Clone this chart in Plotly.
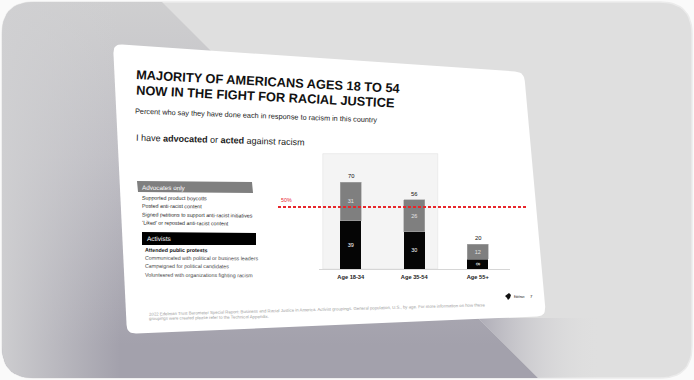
import numpy as np
import plotly.graph_objects as go

# ---------------- data ----------------
categories = ["Age 18-34", "Age 35-54", "Age 55+"]
activists = [39, 30, 8]
advocates_only = [31, 26, 12]
threshold = 50

title_lines = ["MAJORITY OF AMERICANS AGES 18 TO 54", "NOW IN THE FIGHT FOR RACIAL JUSTICE"]
subtitle = "Percent who say they have done each in response to racism in this country"
question = "I have <b>advocated</b> or <b>acted</b> against racism"
advocate_header = "Advocates only"
advocate_items = ["Supported product boycotts", "Posted anti-racist content",
                  "Signed petitions to support anti-racist initiatives",
                  "\u2018Liked\u2019 or reposted anti-racist content"]
activist_header = "Activists"
activist_items = ["Attended public protests", "Communicated with political or business leaders",
                  "Campaigned for political candidates", "Volunteered with organizations fighting racism"]
footer_lines = ["2022 Edelman Trust Barometer Special Report: Business and Racial Justice in America. Activist groupings. General population, U.S., by age. For more information on how these",
                "groupings were created please refer to the Technical Appendix."]
logo_text = "Edelman"
page_number = "7"

FONT = "Liberation Sans, Arial, sans-serif"
W, H = 694, 380

# ---------------- helpers for decorative geometry ----------------
def rounded_poly(pts, r, n=10):
    pts = [np.array(p, float) for p in pts]
    out = []
    N = len(pts)
    for i in range(N):
        p, prv, nxt = pts[i], pts[i - 1], pts[(i + 1) % N]
        d1 = (prv - p) / np.linalg.norm(prv - p)
        d2 = (nxt - p) / np.linalg.norm(nxt - p)
        a, b = p + d1 * r, p + d2 * r
        for t in np.linspace(0, 1, n):
            q = (1 - t) ** 2 * a + 2 * (1 - t) * t * p + t ** 2 * b
            out.append(q)
    out.append(out[0])
    return np.array(out)


def clip(poly, f):
    res = []
    P = list(poly[:-1])
    for i in range(len(P)):
        cur, nxt = P[i], P[(i + 1) % len(P)]
        fc, fn = f(cur), f(nxt)
        if fc >= 0:
            res.append(cur)
        if (fc >= 0) != (fn >= 0):
            t = fc / (fc - fn)
            res.append(cur + t * (nxt - cur))
    res.append(res[0])
    return np.array(res)


fig = go.Figure()

def add_poly(poly, color=None, grad=None, line=None):
    kw = dict(x=poly[:, 0], y=poly[:, 1], mode="lines", fill="toself",
              line=dict(width=0 if line is None else line[1], color="rgba(0,0,0,0)" if line is None else line[0]),
              hoverinfo="skip", showlegend=False, xaxis="x", yaxis="y")
    if grad is not None:
        kw["fillgradient"] = grad
    else:
        kw["fillcolor"] = color
    fig.add_trace(go.Scatter(**kw))

outer = rounded_poly([(2, 2), (692, 2), (692, 378), (2, 378)], 32, 14)
add_poly(outer, "#dfdfdf", line=("#ebebeb", 1.5))
dark = clip(outer, lambda p: 160 + p[1] - p[0])
add_poly(dark, grad=dict(type="vertical", start=0, stop=345,
                         colorscale=[[0, "#cfcfd0"], [0.45, "#c0bfc5"], [1, "#a3a1ac"]]))
left_strip = clip(dark, lambda p: 120 - p[0])
add_poly(left_strip, grad=dict(type="horizontal", start=0, stop=120,
                               colorscale=[[0, "rgba(208,208,210,0.95)"], [1, "rgba(208,208,210,0)"]]))
sh = clip(clip(clip(outer, lambda p: p[0] - p[1] - 160), lambda p: p[1] - 318), lambda p: 640 - p[0])
add_poly(sh, grad=dict(type="horizontal", start=475, stop=600,
                       colorscale=[[0, "#aba9b4"], [1, "rgba(223,223,223,0)"]]))

slide = rounded_poly([(113, 44), (524, 72), (546, 316), (127, 334)], 9, 10)
add_poly(slide, "#ffffff")

# ---------------- bars ----------------
fig.add_trace(go.Bar(x=categories, y=activists, name="Activists", marker=dict(color="#050505", line=dict(width=0)),
                     text=activists, textposition="inside", insidetextanchor="middle",
                     textfont=dict(size=5.5, color="#ffffff", family=FONT), constraintext="none",
                     width=0.33, xaxis="x2", yaxis="y2", hoverinfo="skip", showlegend=False))
fig.add_trace(go.Bar(x=categories, y=advocates_only, name="Advocates only",
                     marker=dict(color="#7f7f7f", line=dict(width=0.6, color="#a8a8a8")),
                     text=advocates_only, textposition="inside", insidetextanchor="middle",
                     textfont=dict(size=5.5, color="#e4e4e4", family=FONT), constraintext="none",
                     width=0.33, xaxis="x2", yaxis="y2", hoverinfo="skip", showlegend=False))

totals = [a + b for a, b in zip(activists, advocates_only)]

ann = []
for c, t in zip(categories, totals):
    ann.append(dict(x=c, y=t, xref="x2", yref="y2", text=str(t), showarrow=False, yshift=6,
                    font=dict(size=5.8, color="#111", family=FONT)))

def txt(text, x, y, size, color="#000", angle=0, xanchor="left", bold=False):
    ann.append(dict(x=x, y=y, xref="x", yref="y", text=("<b>%s</b>" % text) if bold else text,
                    showarrow=False, xanchor=xanchor, yanchor="middle", textangle=angle,
                    font=dict(size=size, color=color, family=FONT)))

txt(title_lines[0], 134, 81.5, 12.8, "#111", 3.0, bold=True)
txt(title_lines[1], 134, 96.5, 12.8, "#111", 2.9, bold=True)
txt(subtitle, 133, 115.5, 7.3, "#222", 2.1)
txt(question, 134, 139.5, 9.0, "#222", 1.6)

txt(advocate_header, 140, 187.5, 6.3, "#ffffff", 0.6)
for i, s in enumerate(advocate_items):
    txt(s, 140, 197.5 + 8.5 * i, 5.3, "#222", 0.6)
txt(activist_header, 145, 238.5, 6.5, "#ffffff", 0.4)
for i, s in enumerate(activist_items):
    txt(s, 143, 250 + 8.2 * i, 5.3, "#111" if i == 0 else "#444", 0.3, bold=(i == 0))

txt(footer_lines[0], 147, 309, 4.3, "#9a9a9a", -1.6)
txt(footer_lines[1], 147, 317.5, 4.3, "#9a9a9a", -1.0)
txt(logo_text, 512, 296.5, 2.7, "#222")
txt(page_number, 527.5, 296, 4.3, "#222")

# threshold label
ann.append(dict(x=279, y=threshold, xref="x", yref="y2", text="%d%%" % threshold, showarrow=False,
                xanchor="left", yanchor="middle", yshift=7, font=dict(size=5.3, color="#e8262b", family=FONT)))

shapes = [
    # header boxes
    dict(type="path", xref="x", yref="y", path="M137,181 L252,182 L253,193 L138,192 Z",
         fillcolor="#7f7f7f", line=dict(width=0), layer="above"),
    dict(type="path", xref="x", yref="y", path="M142,232 L256,233 L256,245 L142,245 Z",
         fillcolor="#000000", line=dict(width=0), layer="above"),
    # logo glyph
    dict(type="path", xref="x", yref="y", path="M505,296 L509,293 L511,295 L510,298 L508,300 L507,298 Z",
         fillcolor="#111", line=dict(width=0), layer="above"),
    # highlight panel behind 18-54 bars
    dict(type="rect", xref="x2", yref="y2", x0=-0.44, x1=1.37, y0=0, y1=93,
         fillcolor="#f4f4f4", line=dict(width=0.6, color="#e3e3e3"), layer="below"),
    # threshold line
    dict(type="line", xref="x", yref="y2", x0=278, x1=528, y0=threshold, y1=threshold,
         line=dict(color="#e8262b", width=1.8, dash="3px,2px"), layer="above"),
]

fig.update_layout(
    width=W, height=H, margin=dict(l=0, r=0, t=0, b=0),
    paper_bgcolor="#fafafa", plot_bgcolor="rgba(0,0,0,0)",
    barmode="stack", bargap=0.6,
    xaxis=dict(range=[0, W], domain=[0, 1], visible=False, fixedrange=True),
    yaxis=dict(range=[H, 0], domain=[0, 1], visible=False, fixedrange=True),
    xaxis2=dict(domain=[319 / W, 509.5 / W], anchor="y2", type="category", range=[-0.5, 2.5],
                showline=True, linecolor="#d6d6d6", linewidth=1, showgrid=False, ticks="",
                ticklabelstandoff=2, fixedrange=True,
                tickfont=dict(size=5.7, color="#222", family=FONT, weight="bold")),
    yaxis2=dict(domain=[(H - 269) / H, (H - 145) / H], anchor="x2", range=[0, 100], visible=False,
                showgrid=False, fixedrange=True),
    shapes=shapes, annotations=ann,
    font=dict(family=FONT),
    hovermode=False,
)

fig.write_html("out.html", config={"displayModeBar": False, "staticPlot": True},
               post_script="document.body.style.margin='0';document.body.style.overflow='hidden';")
